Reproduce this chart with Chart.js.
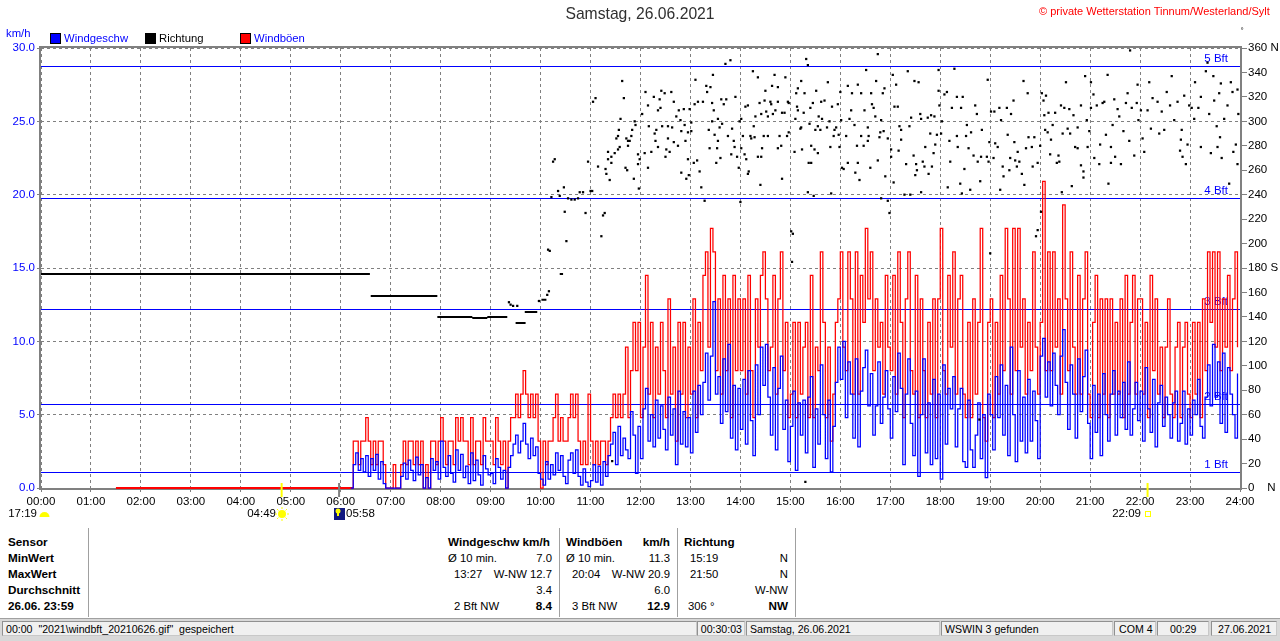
<!DOCTYPE html>
<html lang="de">
<head>
<meta charset="utf-8">
<title>Samstag, 26.06.2021</title>
<script src="https://cdn.jsdelivr.net/npm/chart.js@4"></script>
<style>
    html, body { margin: 0; padding: 0; background: #fff; width: 1280px; height: 641px; overflow: hidden; }
    body { position: relative; font: 11.3px "Liberation Sans", Arial, sans-serif; color: #000; }
    canvas { position: absolute; left: 0; top: 0; }
    .t { position: absolute; white-space: pre; line-height: 14px; }
    .b { font-weight: bold; font-size: 11.7px; }
    .r { text-align: right; }
    .blue { color: #0000ff; }
    .sw { position: absolute; width: 9px; height: 9px; border: 1px solid #000; top: 33px; }
    .v { position: absolute; width: 1px; top: 528px; height: 89px; background: #a0a0a0; }
    .panel { position: absolute; top: 621px; height: 15px; line-height: 15px; padding: 0 3px; box-sizing: border-box;
             font-size: 10.6px; background: #f0f0f0; border: 1px solid #909090; border-right-color: #c8c8c8; border-bottom-color: #c8c8c8;
             white-space: pre; overflow: hidden; }
</style>
</head>
<body>
<canvas id="windChart" width="1280" height="525"></canvas>

<!-- Kopf -->
<div class="t" style="left:1039px;top:4px;color:#ff0000;font-size:11px">© private Wetterstation Tinnum/Westerland/Sylt</div>
<div class="t blue" style="left:6px;top:26px">km/h</div>
<div class="sw" style="left:50px;background:#0000ff"></div>
<div class="t blue" style="left:64px;top:31px">Windgeschw</div>
<div class="sw" style="left:145px;background:#000"></div>
<div class="t" style="left:159px;top:31px">Richtung</div>
<div class="sw" style="left:240px;background:#ff0000"></div>
<div class="t blue" style="left:254px;top:31px">Windböen</div>

<!-- Tabelle -->
<div class="v" style="left:88px"></div>
<div class="v" style="left:559px"></div>
<div class="v" style="left:677px"></div>
<div class="v" style="left:795px"></div>

<div class="t b" style="left:8px;top:535px">Sensor</div>
<div class="t b" style="left:8px;top:551px">MinWert</div>
<div class="t b" style="left:8px;top:567px">MaxWert</div>
<div class="t b" style="left:8px;top:583px">Durchschnitt</div>
<div class="t b" style="left:8px;top:599px">26.06. 23:59</div>

<div class="t b" style="left:448px;top:535px">Windgeschw km/h</div>
<div class="t" style="left:448px;top:551px">Ø 10 min.</div>
<div class="t r" style="right:728px;top:551px">7.0</div>
<div class="t" style="left:454px;top:567px">13:27</div>
<div class="t r" style="right:728px;top:567px">W-NW 12.7</div>
<div class="t r" style="right:728px;top:583px">3.4</div>
<div class="t" style="left:454px;top:599px">2 Bft NW</div>
<div class="t r b" style="right:728px;top:599px">8.4</div>

<div class="t b" style="left:566px;top:535px">Windböen</div>
<div class="t b r" style="right:610px;top:535px">km/h</div>
<div class="t" style="left:566px;top:551px">Ø 10 min.</div>
<div class="t r" style="right:610px;top:551px">11.3</div>
<div class="t" style="left:572px;top:567px">20:04</div>
<div class="t r" style="right:610px;top:567px">W-NW 20.9</div>
<div class="t r" style="right:610px;top:583px">6.0</div>
<div class="t" style="left:572px;top:599px">3 Bft NW</div>
<div class="t r b" style="right:610px;top:599px">12.9</div>

<div class="t b" style="left:684px;top:535px">Richtung</div>
<div class="t" style="left:690px;top:551px">15:19</div>
<div class="t r" style="right:492px;top:551px">N</div>
<div class="t" style="left:690px;top:567px">21:50</div>
<div class="t r" style="right:492px;top:567px">N</div>
<div class="t r" style="right:492px;top:583px">W-NW</div>
<div class="t" style="left:688px;top:599px">306 °</div>
<div class="t r b" style="right:492px;top:599px">NW</div>

<!-- Statusleiste -->
<div style="position:absolute;left:0;top:618px;width:1280px;height:23px;background:#d8d8d8;border-top:1px solid #a0a0a0;box-sizing:border-box"></div>
<div class="panel" style="left:2px;width:695px">00:00  "2021\windbft_20210626.gif"  gespeichert</div>
<div class="panel r" style="left:697px;width:48px;padding:0 2px">00:30:03</div>
<div class="panel" style="left:746px;width:194px">Samstag, 26.06.2021</div>
<div class="panel" style="left:941px;width:172px">WSWIN 3 gefunden</div>
<div class="panel" style="left:1114px;width:42px;padding:0 4px">COM 4</div>
<div class="panel" style="left:1157px;width:52px;padding:0 12px">00:29</div>
<div class="panel" style="left:1211px;width:66px;padding:0 6px">27.06.2021</div>

<script>
// ===== Daten =====
// Windböen / Windgeschw: ein Wert alle 3 Minuten ab 06:12
const seriesStart = 372;
const seriesStep = 3;

const gustCalmMinutes = [90, 375];
const gustCalmValues = [0, 0];

const gustValues = [
    0,3.2,3.2,1.6,3.2,3.2,4.8,3.2,1.6,3.2,1.6,3.2,3.2,1.6,0,0,
    0,1.6,0,0,1.6,3.2,1.6,3.2,3.2,1.6,3.2,1.6,3.2,0,1.6,0,3.2,3.2,1.6,3.2,
    4.8,3.2,1.6,3.2,3.2,1.6,4.8,3.2,4.8,3.2,3.2,1.6,4.8,1.6,3.2,3.2,1.6,4.8,3.2,3.2,
    3.2,1.6,4.8,3.2,1.6,3.2,0,3.2,4.8,4.8,6.4,4.8,6.4,8.0,6.4,4.8,6.4,4.8,6.4,3.2,
    0,3.2,1.6,3.2,3.2,4.8,6.4,3.2,4.8,3.2,3.2,4.8,6.4,4.8,6.4,3.2,1.6,3.2,1.6,6.4,
    3.2,1.6,3.2,1.6,3.2,3.2,1.6,3.2,4.8,6.4,4.8,6.4,4.8,6.4,9.6,4.8,8.0,11.3,8.0,11.3,
    4.8,9.6,14.5,6.4,11.3,4.8,9.6,6.4,11.3,8.0,4.8,12.9,6.4,9.6,3.2,11.3,6.4,11.3,4.8,9.6,
    6.4,12.9,4.8,11.3,8.0,14.5,16.1,9.6,17.7,16.1,8.0,12.9,6.4,14.5,8.0,12.9,4.8,14.5,8.0,12.9,
    8.0,12.9,6.4,14.5,8.0,4.8,12.9,9.6,14.5,16.1,12.9,8.0,9.6,14.5,6.4,12.9,16.1,8.0,11.3,4.8,
    6.4,11.3,4.8,11.3,6.4,9.6,11.3,4.8,14.5,4.8,9.6,8.0,16.1,11.3,4.8,9.6,3.2,6.4,11.3,12.9,
    16.1,9.6,8.0,16.1,12.9,6.4,16.1,6.4,14.5,11.3,17.7,12.9,16.1,8.0,12.9,9.6,11.3,6.4,14.5,9.6,
    8.0,14.5,6.4,16.1,11.3,4.8,12.9,16.1,8.0,6.4,14.5,4.8,12.9,8.0,4.8,11.3,6.4,12.9,4.8,12.9,
    17.7,8.0,6.4,14.5,9.6,16.1,6.4,12.9,14.5,6.4,4.8,11.3,4.8,12.9,6.4,11.3,17.7,4.8,3.2,11.3,
    12.9,4.8,11.3,6.4,14.5,8.0,17.7,12.9,6.4,17.7,8.0,17.7,9.6,12.9,6.4,11.3,8.0,16.1,9.6,6.4,
    11.3,20.9,8.0,16.1,8.0,16.1,9.6,12.9,6.4,19.3,12.9,8.0,16.1,9.6,6.4,14.5,6.4,12.9,16.1,6.4,
    4.8,11.3,14.5,4.8,12.9,6.4,12.9,4.8,12.9,6.4,11.3,6.4,12.9,4.8,14.5,6.4,11.3,14.5,6.4,12.9,
    12.9,6.4,11.3,4.8,14.5,8.0,12.9,6.4,9.6,4.8,9.6,12.9,6.4,4.8,9.6,11.3,4.8,9.6,11.3,6.4,
    4.8,11.3,6.4,11.3,4.8,12.9,8.0,16.1,11.3,16.1,9.6,16.1,8.0,12.9,9.6,14.5,8.0,12.9,16.1,9.6
];

const speedValues = [
    0,1.6,2.4,1.2,2.0,1.1,2.2,0.8,2.0,1.2,2.3,0.6,1.8,0.3,0,0,
    0,0,0,0,0.8,1.7,0.6,1.9,1.2,0.5,2.1,0.9,1.6,0,0.7,0,2.0,1.2,1.8,0.6,
    3.2,1.4,0.8,2.2,1.0,0.4,2.6,1.2,2.3,0.7,1.5,0.3,2.4,0.5,1.9,0.9,0.2,2.2,1.3,0.9,
    1.0,0.3,2.0,1.4,0.6,1.2,0,1.4,2.2,3.0,3.6,2.4,3.2,4.4,3.0,2.0,3.4,2.2,2.8,1.0,
    0.6,0.2,1.8,0.6,1.6,0.9,2.4,1.2,2.2,0.8,0.3,1.9,2.4,1.0,2.6,0.8,0.2,1.3,0.4,0.1,
    0.5,1.6,0.4,1.5,0.2,1.8,0.8,2.2,3.0,3.8,1.6,4.2,2.2,3.4,2.6,2.0,5.2,3.6,1.0,4.2,
    2.0,5.4,6.8,3.2,5.0,2.8,6.0,3.4,5.6,4.0,2.6,6.2,3.6,5.4,1.6,6.6,3.0,5.2,2.8,4.8,
    2.4,6.6,3.8,7.0,5.0,7.2,9.2,6.0,9.0,12.7,6.4,7.6,4.4,8.8,5.2,9.8,3.4,7.0,2.6,6.8,
    4.0,7.4,3.0,8.0,4.6,2.2,8.4,5.0,9.6,7.0,9.8,6.2,3.6,8.2,2.6,6.8,9.0,4.0,6.0,1.8,
    4.2,6.6,1.2,5.8,3.6,6.0,2.4,6.2,7.6,1.4,5.4,3.0,8.4,5.0,2.0,6.0,1.1,4.2,7.2,9.6,
    7.4,10.0,4.8,8.6,6.4,3.4,8.8,2.8,6.6,8.2,9.4,5.6,7.8,3.6,5.6,8.6,4.4,6.2,8.0,5.4,
    3.4,7.6,5.2,9.2,6.8,1.6,6.4,8.8,4.4,2.2,6.6,0.8,5.0,8.8,2.4,5.8,1.6,7.4,2.0,6.4,
    0.6,8.4,3.0,6.8,5.4,7.6,2.8,5.4,6.8,1.8,1.4,6.0,2.6,1.4,3.6,5.8,2.0,5.0,0.7,6.4,
    5.0,2.6,7.6,4.8,8.4,3.6,7.0,2.2,9.6,5.0,1.8,8.0,3.2,6.2,2.4,7.4,3.2,6.6,4.6,2.0,
    9.0,10.2,6.2,8.6,5.6,9.2,7.0,5.0,9.0,10.8,7.2,4.0,8.4,6.4,3.4,8.8,5.2,7.6,9.4,4.4,
    2.0,7.0,3.8,6.4,2.2,7.8,5.0,3.2,6.4,8.0,3.6,6.6,4.8,7.2,4.0,8.6,3.6,5.4,7.2,4.6,
    6.6,3.2,8.2,5.4,3.8,7.4,2.8,5.8,7.0,4.2,6.2,5.0,3.4,5.8,6.6,3.2,4.4,6.6,3.0,5.4,
    3.6,6.0,5.0,7.4,4.2,3.4,6.2,8.4,5.6,9.8,6.2,8.6,4.4,9.2,3.8,8.2,6.4,5.0,3.4,7.8
];

// Richtung: ruhige Abschnitte als Linie (null = Lücke)
const dirRunMinutes = [0,395,null,396,476,null,476,518,null,518,536,null,536,560,null,570,582,null,581,596,null,601,607,null,623,627];
const dirRunDegrees = [175,175,null,157,157,null,140,140,null,139,139,null,140,140,null,135,135,null,144,144,null,154,154,null,175,175];

// Richtung: Einzelpunkte
const dirMinutes = [
    562,564,567,572,598,608,610,
    609,611,613,615,617,621,623,628,629,631,633,637,641,645,647,651,654,657,660,662,663,666,
    669,673,675,677,678,679,681,681,683,685,685,686,689,691,693,693,694,695,696,698,700,702,703,704,705,705,707,709,710,712,713,714,717,717,718,719,
    722,726,729,730,725,733,729,737,736,741,744,745,739,738,741,749,743,746,753,753,750,755,751,757,760,758,760,763,765,766,769,769,768,772,773,774,777,777,778,775,779,781,781,785,786,789,784,788,791,793,797,
    795,799,800,802,804,806,807,808,809,803,806,812,813,813,811,816,815,818,817,820,823,822,828,825,830,834,832,833,829,836,838,839,840,841,841,845,846,843,847,849,849,850,852,853,855,856,857,858,861,861,863,864,865,865,866,869,868,870,871,873,873,876,877,879,878,881,882,885,885,885,887,889,890,893,894,890,896,897,898,898,
    901,903,902,905,906,907,908,909,909,912,913,913,914,916,917,918,919,921,921,922,923,924,925,925,927,928,929,930,931,933,933,934,937,936,938,941,945,944,947,948,949,950,952,953,955,957,958,959,960,961,962,964,967,969,969,971,973,974,977,978,980,981,981,983,985,985,988,989,991,993,993,994,997,996,998,
    1000,1002,1003,1005,1005,1007,1008,1009,1009,1011,1012,1013,1014,1017,1017,1019,1021,1021,1023,1024,1025,1027,1029,1030,
    1031,1033,1041,1049,1054,1039,1033,1037,1044,1057,1043,1045,1048,1050,1052,1051,1056,1057,1059,1061,1062,1065,1066,1068,1069,1070,1073,1072,1074,1076,1078,1078,1079,1081,1082,1085,1088,1089,1091,1092,1094,1097,1100,1100,1101,1104,1105,1106,1107,1109,1112,1111,1116,1114,1117,1120,1122,1124,1125,1127,1128,1129,1130,1136,1137,1138,1139,1140,1141,1144,1145,1146,1149,1151,1152,1153,1155,1156,1160,1161,1163,1164,1165,1168,1170,1169,1172,1173,1175,1178,1180,1181,1185,1186,1183,1191,1193,1190,1197,1195,1197,1201,1200,1202,1204,1205,1207,1206,1210,1209,
    1213,1212,1215,1218,1222,1223,1220,1226,1225,1227,1229,1231,1233,1235,1236,1238,1240,1242,1245,1245,1249,1249,1252,1252,1254,1256,1257,1259,1261,1261,1264,1265,1268,1271,1272,1275,1277,1279,1281,1282,1285,1285,1287,1289,1290,1293,1295,1297,1300,1303,1305,1307,1308,1310,1313,1316,1317,1318,1323,1325,1321,1331,1329,1335,1333,1341,1343,1346,1349,1352,1358,1356,1361,1365,1368,1369,1370,1371,1373,1375,1377,1379,1382,1386,1385,1390,1393,1393,1399,1401,1408,1403,1405,1409,1413,1412,1415,1417,1418,1416,1421,1425,1427,1429,1431,1432,1435,1437,1438,1437
];
const dirDegrees = [
    152,150,149,149,153,158,161,
    195,194,238,267,269,243,239,246,226,202,237,236,236,237,242,242,225,267,243,243,316,319,
    263,206,223,225,261,257,269,275,252,266,271,22,274,286,277,288,293,279,302,333,319,262,286,260,284,280,284,288,293,253,300,297,273,265,245,269,
    306,324,313,296,274,275,262,290,320,309,311,325,293,284,279,323,318,296,286,296,271,275,277,324,316,295,283,304,280,309,258,292,301,310,297,284,291,269,256,253,310,299,292,314,334,316,266,268,259,246,235,
    316,329,324,293,328,315,338,309,289,278,300,278,302,284,266,270,295,298,318,314,318,347,350,288,294,320,284,279,273,271,262,300,234,302,278,273,312,288,269,313,257,259,288,286,341,296,287,304,271,336,315,248,271,306,278,317,288,325,308,304,288,316,314,306,329,338,309,328,316,278,288,280,307,307,336,253,288,316,315,291,
    210,208,185,275,302,323,312,327,309,294,295,333,277,307,323,5,351,346,242,266,298,311,280,266,315,239,277,293,325,274,296,304,316,293,302,317,332,295,300,279,241,312,288,293,295,314,289,279,324,301,262,261,288,329,266,302,309,323,297,258,280,330,266,252,323,288,280,309,342,295,284,288,323,262,314,
    311,304,333,355,268,287,291,301,237,323,292,327,255,235,286,225,277,271,338,250,312,330,312,276,
    296,293,341,333,332,265,285,240,240,242,296,303,272,256,260,265,306,302,267,263,279,303,257,290,305,263,304,274,281,289,342,325,313,290,300,322,324,246,284,267,311,343,288,320,279,249,311,241,320,261,297,288,244,278,291,272,313,306,267,56,251,271,293,271,334,267,283,192,308,270,308,282,279,311,244,301,263,255,311,289,260,270,306,317,268,283,263,275,267,257,333,248,323,287,278,263,287,279,266,206,211,226,280,323,317,305,321,293,307,291,
    285,273,297,307,272,267,266,242,313,290,311,332,294,310,290,247,305,279,278,295,313,264,259,254,337,301,279,292,332,311,322,270,313,265,281,315,316,289,338,249,279,266,297,318,271,310,304,265,292,315,323,284,358,311,272,315,330,301,286,275,309,332,309,319,294,316,290,308,293,324,337,313,301,316,276,285,293,271,321,265,281,313,311,332,302,311,279,320,341,348,337,306,274,317,279,296,323,331,270,287,302,313,249,332,324,275,281,326,306,265
];

// Beaufort-Grenzen (km/h) und Beschriftung
const bftLimits = [1.1, 5.7, 12.2, 19.8, 28.8];
const bftLabels = ["1 Bft", "2 Bft", "3 Bft", "4 Bft", "5 Bft"];

// Sonne / Mond: Zeitpunkte in Minuten
const sunBarMinutes = [289, 358, 1329];
const sunBarColors = ["#ffff00", "#808080", "#ffff00"];

const GRID_GRAY = "#808080";
const AXIS_FONT = { family: "Liberation Sans", size: 11.5 };

// ===== Helper =====
function toPoints(minutes, values) {
    return minutes.map((m, i) => ({ x: m, y: values[i] }));
}

function seriesMinutes(values) {
    return values.map((v, i) => seriesStart + i * seriesStep);
}

function hhmm(m) {
    const h = Math.floor(m / 60);
    const min = m % 60;
    return String(h).padStart(2, "0") + ":" + String(min).padStart(2, "0");
}

function dirTick(v) {
    if (v === 360) return "360 N";
    if (v === 180) return "180 S";
    if (v === 0) return "0    N";
    return String(v);
}

// ===== Plugin: Rahmen, Beaufort-Linien, Sonnenzeile =====
const backdrop = {
    id: "backdrop",
    beforeDatasetsDraw(chart) {
        const { ctx, chartArea: a, scales } = chart;
        ctx.save();
        ctx.strokeStyle = GRID_GRAY;
        ctx.lineWidth = 2;
        ctx.strokeRect(a.left - 1, a.top - 1, a.width + 2, a.height + 2);

        ctx.strokeStyle = "#0000ff";
        ctx.lineWidth = 1;
        ctx.fillStyle = "#0000ff";
        ctx.font = "11.5px 'Liberation Sans'";
        ctx.textAlign = "right";
        ctx.textBaseline = "middle";
        bftLimits.forEach((lim, i) => {
            const y = Math.round(scales.y.getPixelForValue(lim)) + 0.5;
            ctx.beginPath();
            ctx.moveTo(a.left, y);
            ctx.lineTo(a.right, y);
            ctx.stroke();
            ctx.fillText(bftLabels[i], a.right - 12, y - 8);
        });
        ctx.restore();
    },
    afterDraw(chart) {
        const { ctx, chartArea: a, scales } = chart;
        ctx.save();
        // Balken auf der Zeitachse
        sunBarMinutes.forEach((m, i) => {
            const x = scales.x.getPixelForValue(m);
            ctx.fillStyle = sunBarColors[i];
            ctx.fillRect(x - 1, a.bottom - 5, 2, 14);
        });

        ctx.fillStyle = "#000";
        ctx.font = "11.5px 'Liberation Sans'";
        ctx.textBaseline = "middle";
        ctx.textAlign = "right";
        ctx.fillText("17:19", 37, 514);
        ctx.fillText("04:49", 276, 514);
        ctx.fillText("22:09", 1141, 514);
        ctx.textAlign = "left";
        ctx.fillText("05:58", 346, 514);

        // Untergang 17:19 (halbe Sonne)
        ctx.fillStyle = "#ffff00";
        ctx.beginPath();
        ctx.arc(44.5, 517, 5, Math.PI, 0);
        ctx.fill();

        // Aufgang 04:49 (Sonne mit Strahlen)
        ctx.beginPath();
        ctx.arc(282, 514, 4, 0, Math.PI * 2);
        ctx.fill();
        ctx.strokeStyle = "#ffff00";
        ctx.lineWidth = 1;
        for (let k = 0; k < 8; k++) {
            const w = k * Math.PI / 4;
            ctx.beginPath();
            ctx.moveTo(282 + Math.cos(w) * 5, 514 + Math.sin(w) * 5);
            ctx.lineTo(282 + Math.cos(w) * 7, 514 + Math.sin(w) * 7);
            ctx.stroke();
        }

        // Mond-Symbol 05:58
        ctx.fillStyle = "#101880";
        ctx.fillRect(334, 508, 11, 12);
        ctx.fillStyle = "#ffff00";
        ctx.beginPath();
        ctx.arc(338, 511, 2.5, 0, Math.PI * 2);
        ctx.fill();
        ctx.fillRect(337, 513, 2, 3);

        // Symbol 22:09
        ctx.strokeStyle = "#ffff00";
        ctx.strokeRect(1145.5, 511.5, 5, 5);

        // kleiner Punkt oben rechts
        ctx.fillStyle = "#000";
        ctx.font = "8px 'Liberation Sans'";
        ctx.textAlign = "center";
        ctx.fillText("°", 1242, 31);
        ctx.restore();
    }
};

// ===== Chart =====
const ctx = document.getElementById("windChart").getContext("2d");

new Chart(ctx, {
    type: "line",
    plugins: [backdrop],
    data: {
        datasets: [
            {
                label: "Richtung",
                yAxisID: "yDir",
                order: 0,
                data: toPoints(dirMinutes, dirDegrees),
                showLine: false,
                pointStyle: "rect",
                pointRadius: 1.6,
                pointBackgroundColor: "#000",
                pointBorderWidth: 0,
            },
            {
                label: "Richtung Abschnitte",
                yAxisID: "yDir",
                order: 0,
                data: toPoints(dirRunMinutes, dirRunDegrees),
                spanGaps: false,
                borderColor: "#000",
                borderWidth: 2,
                pointRadius: 0,
            },
            {
                label: "Windgeschw",
                yAxisID: "y",
                order: 1,
                clip: false,
                data: toPoints(seriesMinutes(speedValues), speedValues),
                stepped: true,
                borderColor: "#0000ff",
                borderWidth: 1.25,
                pointRadius: 0,
            },
            {
                label: "Windböen",
                yAxisID: "y",
                order: 2,
                clip: false,
                data: toPoints(seriesMinutes(gustValues), gustValues),
                stepped: true,
                borderColor: "#ff0000",
                borderWidth: 1.25,
                pointRadius: 0,
            },
            {
                label: "Windböen Ruhe",
                yAxisID: "y",
                order: 2,
                clip: false,
                data: toPoints(gustCalmMinutes, gustCalmValues),
                borderColor: "#ff0000",
                borderWidth: 2,
                pointRadius: 0,
            },
        ],
    },
    options: {
        responsive: false,
        animation: false,
        parsing: { xAxisKey: "x", yAxisKey: "y" },
        layout: { padding: 0 },
        plugins: {
            legend: { display: false },
            tooltip: { enabled: false },
            title: {
                display: true,
                text: "Samstag, 26.06.2021",
                color: "#303030",
                font: { family: "Liberation Sans", size: 15.7, weight: "normal", lineHeight: 18 / 15.7 },
                padding: { top: 6, bottom: 24 },
            },
        },
        scales: {
            x: {
                type: "linear",
                min: 0,
                max: 1440,
                afterFit(scale) { scale.height = 37; },
                grid: {
                    color: GRID_GRAY,
                    tickColor: GRID_GRAY,
                    tickLength: 4,
                },
                border: { display: false, dash: [3, 3] },
                ticks: {
                    stepSize: 60,
                    autoSkip: false,
                    maxRotation: 0,
                    padding: 3,
                    color: "#000",
                    font: AXIS_FONT,
                    callback: v => hhmm(v),
                },
            },
            y: {
                position: "left",
                min: 0,
                max: 30,
                afterFit(scale) { scale.width = 41; },
                grid: {
                    color: GRID_GRAY,
                    tickColor: GRID_GRAY,
                    tickLength: 4,
                },
                border: { display: false, dash: [3, 3] },
                ticks: {
                    stepSize: 5,
                    padding: 2,
                    color: "#0000ff",
                    font: AXIS_FONT,
                    callback: v => v.toFixed(1),
                },
            },
            yDir: {
                position: "right",
                min: 0,
                max: 360,
                afterFit(scale) { scale.width = 40; },
                grid: {
                    drawOnChartArea: false,
                    tickColor: GRID_GRAY,
                    tickLength: 7,
                },
                border: { display: false },
                ticks: {
                    stepSize: 20,
                    padding: 1,
                    color: "#000",
                    font: AXIS_FONT,
                    callback: dirTick,
                },
            },
        },
    },
});
</script>
</body>
</html>
